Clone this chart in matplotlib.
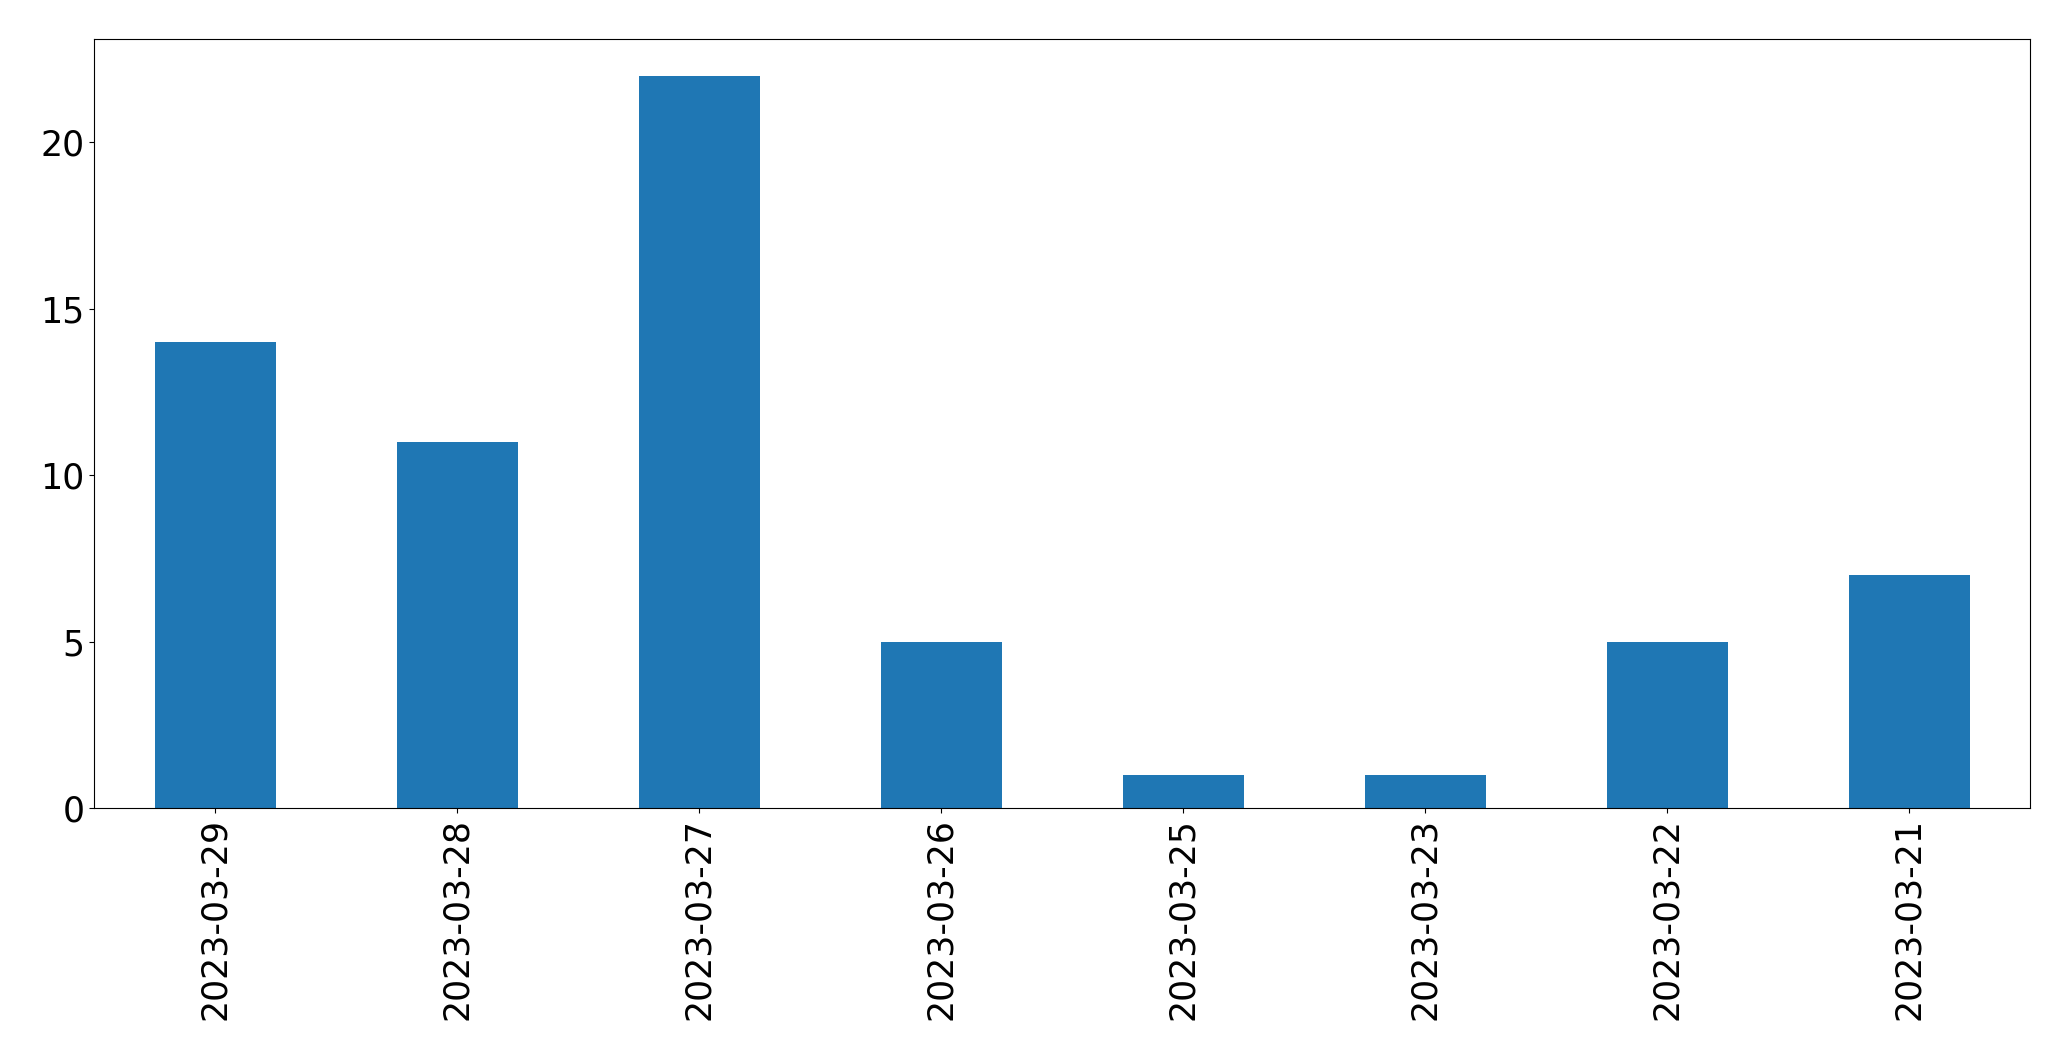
import matplotlib
matplotlib.use("Agg")
import matplotlib.pyplot as plt
import pandas as pd

# daily counts, newest first as in the source
dates = ["2023-03-29", "2023-03-28", "2023-03-27", "2023-03-26",
         "2023-03-25", "2023-03-23", "2023-03-22", "2023-03-21"]
counts = [14, 11, 22, 5, 1, 1, 5, 7]

s = pd.Series(counts, index=dates)

fig = plt.figure(figsize=(20.71, 10.61), dpi=100)
ax = fig.add_axes([94 / 2071, 1 - 808 / 1061, (2030 - 94) / 2071, (808 - 39) / 1061])
s.plot(kind="bar", ax=ax, color="#1f77b4")
ax.tick_params(labelsize=25)
ax.set_yticks([0, 5, 10, 15, 20])

fig.savefig("out.png", dpi=100)
